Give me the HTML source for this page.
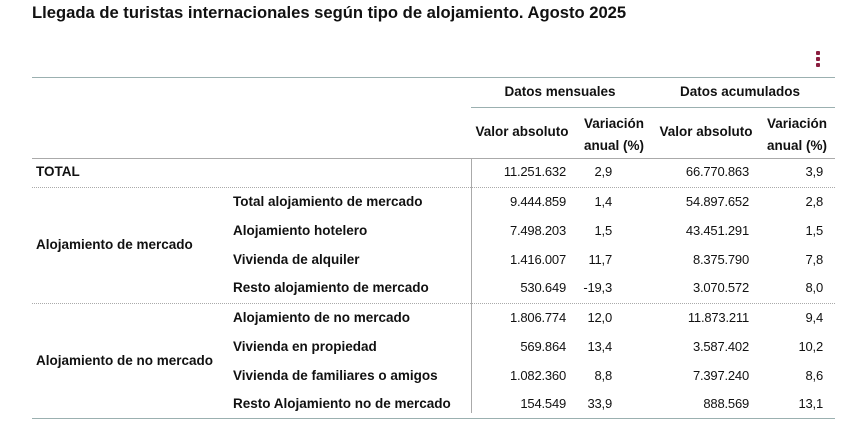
<!DOCTYPE html>
<html><head><meta charset="utf-8"><style>
body{margin:0;background:#fff;width:852px;height:441px;overflow:hidden;font-family:"Liberation Sans",sans-serif;color:#111;position:relative}
.t{position:absolute;white-space:nowrap;font-size:13.5px;letter-spacing:0;font-weight:bold;line-height:16px}
.r{text-align:right}
.c{text-align:center}
.l{position:absolute;height:0}
</style></head><body>
<div class="t" style="left:32px;top:5px;font-size:16.6px;letter-spacing:0">Llegada de turistas internacionales según tipo de alojamiento. Agosto 2025</div>
<div style="position:absolute;left:816px;top:51px;width:4px">
<div style="width:4px;height:4px;background:#8b1e3f;border-radius:1px;margin-bottom:2px"></div>
<div style="width:4px;height:4px;background:#8b1e3f;border-radius:1px;margin-bottom:2px"></div>
<div style="width:4px;height:4px;background:#8b1e3f;border-radius:1px"></div></div>
<div class="l" style="left:32px;top:77px;width:803px;border-top:1px solid #9bb0b0"></div>
<div class="l" style="left:471px;top:107px;width:364px;border-top:1px solid #9bb0b0"></div>
<div class="l" style="left:32px;top:158px;width:803px;border-top:1px solid #aaa"></div>
<div class="l" style="left:32px;top:187px;width:803px;border-top:1px dotted #aaa"></div>
<div class="l" style="left:32px;top:303px;width:803px;border-top:1px dotted #aaa"></div>
<div class="l" style="left:32px;top:418px;width:803px;border-top:1px solid #9bb0b0"></div>
<div style="position:absolute;left:471px;top:158px;width:0;height:255px;border-left:1px solid #aaa"></div>
<div class="t c" style="left:480px;width:160px;top:84px">Datos mensuales</div>
<div class="t c" style="left:650px;width:180px;top:84px">Datos acumulados</div>
<div class="t c" style="left:470px;width:104px;top:124px">Valor absoluto</div>
<div class="t c" style="left:574px;width:80px;top:113px;line-height:22px">Variación<br>anual (%)</div>
<div class="t c" style="left:654px;width:104px;top:124px">Valor absoluto</div>
<div class="t c" style="left:757px;width:80px;top:113px;line-height:22px">Variación<br>anual (%)</div>
<div class="t" style="left:36px;top:164px">TOTAL</div>
<div class="t" style="left:36px;top:237px">Alojamiento de mercado</div>
<div class="t" style="left:36px;top:353px">Alojamiento de no mercado</div>
<div id="rows"></div>
<script>
var d=[[172,"",'11.251.632','2,9','66.770.863','3,9'],
[202,'Total alojamiento de mercado','9.444.859','1,4','54.897.652','2,8'],
[231,'Alojamiento hotelero','7.498.203','1,5','43.451.291','1,5'],
[260,'Vivienda de alquiler','1.416.007','11,7','8.375.790','7,8'],
[288,'Resto alojamiento de mercado','530.649','-19,3','3.070.572','8,0'],
[318,'Alojamiento de no mercado','1.806.774','12,0','11.873.211','9,4'],
[347,'Vivienda en propiedad','569.864','13,4','3.587.402','10,2'],
[376,'Vivienda de familiares o amigos','1.082.360','8,8','7.397.240','8,6'],
[404,'Resto Alojamiento no de mercado','154.549','33,9','888.569','13,1']];
var R=[566,612,749,823],h='';
d.forEach(function(r){var y=r[0]-8;
if(r[1])h+='<div class="t" style="left:233px;top:'+y+'px">'+r[1]+'</div>';
for(var i=0;i<4;i++)h+='<div class="t r" style="left:'+(R[i]-100)+'px;width:100px;top:'+y+'px;font-weight:normal;font-size:13px;letter-spacing:-0.2px">'+r[i+2]+'</div>';});
document.getElementById('rows').innerHTML=h;
</script>
</body></html>
